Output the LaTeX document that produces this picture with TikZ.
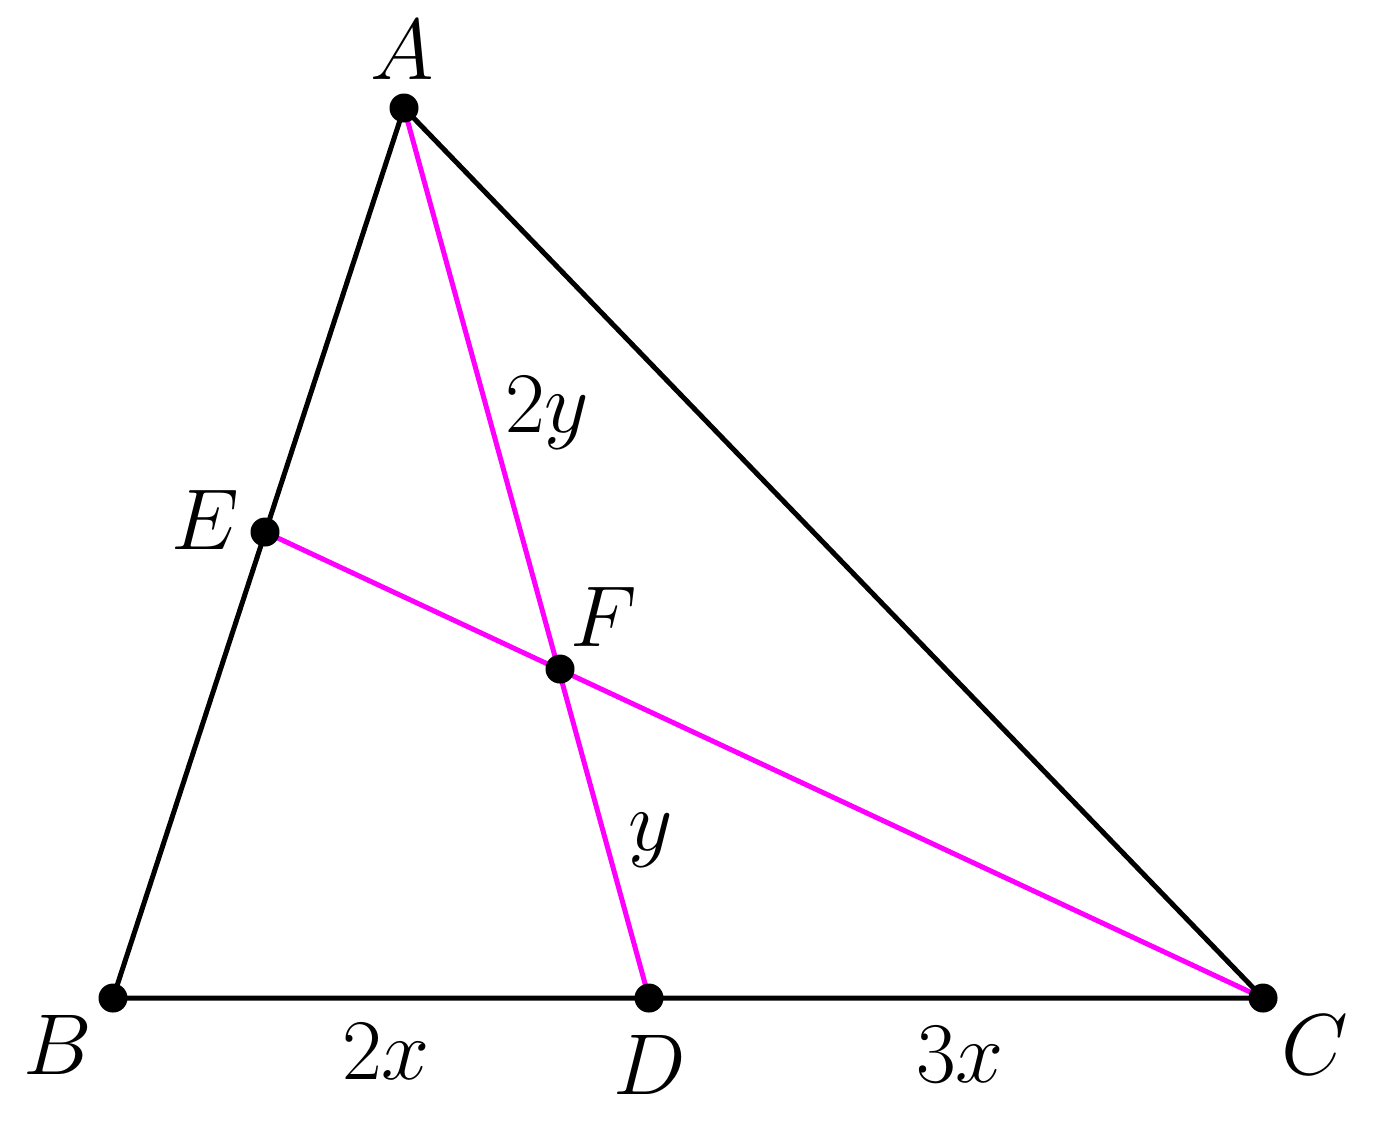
\documentclass[tikz,border=0pt]{standalone}
\definecolor{mag}{RGB}{255,0,255}
\begin{document}
\begin{tikzpicture}[x=0.2pt,y=-0.2pt,
  seg/.style={line width=1pt,black},
  ceva/.style={line width=1pt,mag},
  dot/.style={circle,fill=black,inner sep=0pt,minimum size=5.8pt},
  lbl/.style={font=\fontsize{16.5}{19}\selectfont}]
\useasboundingbox (0,0) rectangle (1382,1138);
\coordinate (A) at (404,108);
\coordinate (B) at (113,998);
\coordinate (C) at (1263,998);
\coordinate (D) at (649,998);
\coordinate (E) at (265,532);
\coordinate (F) at (560,669);
\draw[seg] (A) -- (B) -- (C) -- cycle;
\draw[ceva] (A) -- (D);
\draw[ceva] (E) -- (C);
\foreach \p in {A,B,C,D,E,F} \node[dot] (d\p) at (\p) {};
\node[lbl] (lA) at (402,50) {$A$};
\node[lbl] (lB) at (58,1045) {$B$};
\node[lbl] (lC) at (1315,1045) {$C$};
\node[lbl] (lD) at (650,1065) {$D$};
\node[lbl] (lE) at (205,520) {$E$};
\node[lbl] (lF) at (604,617) {$F$};
\node[lbl] (l2y) at (547,413) {$2y$};
\node[lbl] (ly) at (651,840) {$y$};
\node[lbl] (l2x) at (386,1052) {$2x$};
\node[lbl] (l3x) at (960,1055) {$3x$};
\end{tikzpicture}
\end{document}
